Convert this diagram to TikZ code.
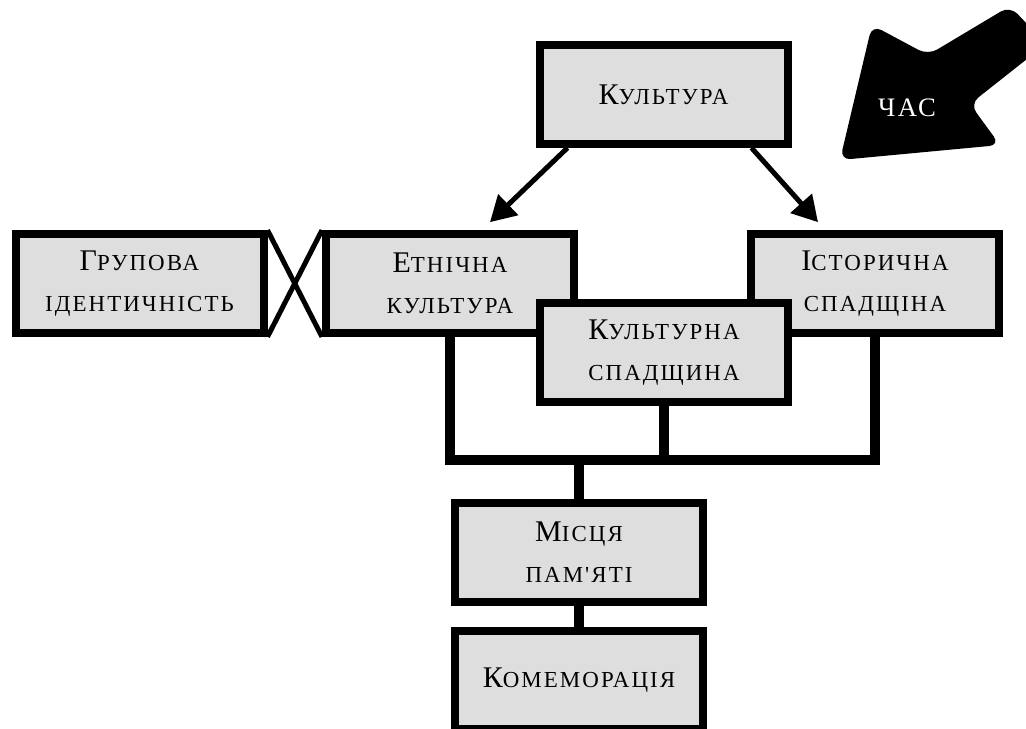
\documentclass[tikz,border=0pt]{standalone}
\usepackage{fontspec}
\newfontfamily\capfont{Liberation Serif}[LetterSpace=9]
\usetikzlibrary{arrows.meta}
\newcommand\sml[1]{{\fontsize{17.2}{31}\selectfont #1}}

\tikzset{
  box/.style={draw, line width=6pt, fill=black!13, minimum width=186pt, minimum height=74pt,
    align=center, inner sep=0pt, font=\capfont\fontsize{22.5}{31}\selectfont},
  link/.style={line width=7pt},
  cross/.style={line width=3.75pt},
  arr/.style={line width=3.75pt, -{Triangle[length=19pt,width=21pt]}},
}

\begin{document}
\begin{tikzpicture}[x=0.75pt,y=-0.75pt]
    \useasboundingbox (0,0) rectangle (1026,729);
    \clip (0,0) rectangle (1026,729);
    % Pfeil Zeit
    \fill[rounded corners=8pt] (872,25) -- (928,55) -- (1010,6) -- (1046,44) -- (970,104)
      -- (1000,145) -- (840,160) -- cycle;
    \node[text=white, font=\capfont\fontsize{20}{24}\selectfont] (chas) at (907,108) {ЧАС};
    % Kaesten
    \node[box] (kul) at (663.5,94.5) {К\sml{УЛЬТУРА}};
    \node[box] (grp) at (139.5,283.5) {Г\sml{РУПОВА}\\\sml{ІДЕНТИЧНІСТЬ}};
    \node[box] (etn) at (450,283.5) {Е\sml{ТНІЧНА}\\\sml{КУЛЬТУРА}};
    \node[box] (ist) at (875,283.5) {І\sml{СТОРИЧНА}\\\sml{СПАДЩІНА}};
    \node[box] (ksp) at (664,352.5) {К\sml{УЛЬТУРНА}\\\sml{СПАДЩИНА}};
    \node[box] (mis) at (579,552.5) {М\sml{ІСЦЯ}\\\sml{ПАМ'ЯТІ}};
    \node[box] (kom) at (579,680) {К\sml{ОМЕМОРАЦІЯ}};
    % Pfeile von Kultur
    \draw[arr] ([xshift=24pt]kul.south west) -- ([xshift=30pt,yshift=6pt]etn.north);
    \draw[arr] ([xshift=-30pt]kul.south east) -- ([xshift=-42.75pt,yshift=6pt]ist.north);
    % Kreuz
    \draw[cross] (grp.north east) -- (etn.south west);
    \draw[cross] (grp.south east) -- (etn.north west);
    % Sammelschiene
    \coordinate (hub) at (579,460);
    \draw[link] (etn.south) |- (ist.south |- hub) -- (ist.south);
    \draw[link] (ksp.south) -- (ksp.south |- hub);
    \draw[link] (hub) -- (mis.north);
    \draw[link] (mis.south) -- (kom.north);
\end{tikzpicture}
\end{document}
